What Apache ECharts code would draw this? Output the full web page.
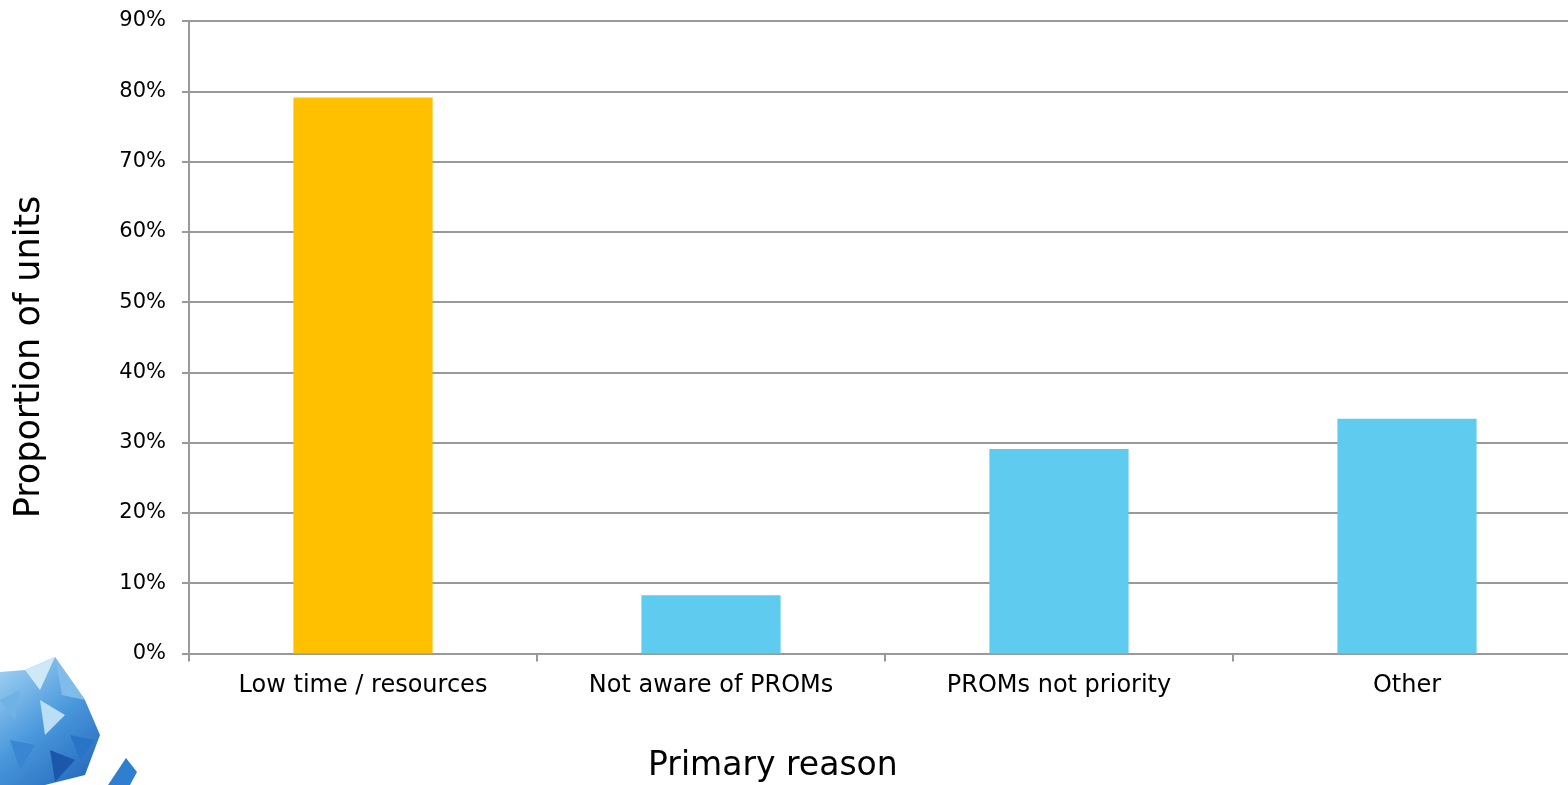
<!DOCTYPE html>
<html>
<head>
<meta charset="utf-8">
<script src="https://cdn.jsdelivr.net/npm/echarts@6/dist/echarts.min.js"></script>
<style>
html,body{margin:0;padding:0;background:#fff;overflow:hidden;width:1568px;height:785px;}
#c{width:1600px;height:785px;}
</style>
</head>
<body>
<div id="c"></div>
<script>
var categories = ['Low time / resources', 'Not aware of PROMs', 'PROMs not priority', 'Other'];
var values = [79.1, 8.3, 29.1, 33.4];
var barColors = ['#FFC000', '#5ECBEF', '#5ECBEF', '#5ECBEF'];
var yTicks = [0, 10, 20, 30, 40, 50, 60, 70, 80, 90];
var xTitle = 'Primary reason';
var yTitle = 'Proportion of units';

var chart = echarts.init(document.getElementById('c'), null, {renderer: 'canvas'});
var font = '"DejaVu Sans", Verdana, sans-serif';
var grey = '#999999';

var logoGrad = new echarts.graphic.LinearGradient(0, 0, 1, 1, [
  {offset: 0, color: '#a8d6f4'},
  {offset: 0.5, color: '#4a98dc'},
  {offset: 1, color: '#1f63b8'}
]);
var tri = function (pts, c) { return {type: 'polygon', shape: {points: pts}, style: {fill: c}}; };

chart.setOption({
  animation: false,
  grid: {left: 189, top: 21, width: 1392, height: 632.5, containLabel: false},
  xAxis: {
    type: 'category',
    data: categories,
    axisLine: {lineStyle: {color: grey, width: 2}},
    axisTick: {show: true, length: 8, lineStyle: {color: grey, width: 2}},
    axisLabel: {color: '#000', fontFamily: font, fontSize: 24, margin: 20}
  },
  yAxis: {
    type: 'value',
    min: yTicks[0], max: yTicks[yTicks.length - 1], interval: 10,
    axisLine: {show: true, lineStyle: {color: grey, width: 2}},
    axisTick: {show: true, length: 7, lineStyle: {color: grey, width: 2}},
    splitLine: {show: true, lineStyle: {color: grey, width: 2}},
    axisLabel: {color: '#000', fontFamily: font, fontSize: 21, margin: 23,
      formatter: function (v) { return v + '%'; }}
  },
  series: [{
    type: 'bar',
    barWidth: '40%',
    data: values.map(function (v, i) { return {value: v, itemStyle: {color: barColors[i]}}; })
  }],
  graphic: [
    {type: 'text', left: 648, top: 750, style: {text: xTitle, font: '33px ' + font, fill: '#000'}},
    {type: 'text', x: 12, y: 357, rotation: Math.PI / 2, style: {text: yTitle, font: '35px ' + font, fill: '#000', align: 'center', verticalAlign: 'top'}},
    {type: 'polygon', shape: {points: [[0, 672], [25, 670], [55, 657], [85, 700], [100, 735], [85, 775], [45, 785], [0, 785]]}, style: {fill: logoGrad}},
    tri([[25, 670], [55, 657], [40, 690]], '#cfe8f8'),
    tri([[55, 657], [85, 700], [62, 695]], '#7fbcea'),
    tri([[0, 700], [20, 690], [15, 720]], '#6fb2e6'),
    tri([[40, 700], [65, 715], [45, 735]], '#b9def6'),
    tri([[70, 735], [95, 740], [80, 760]], '#2a74c8'),
    tri([[10, 740], [35, 745], [20, 770]], '#3a86d2'),
    tri([[50, 750], [75, 760], [55, 782]], '#1b58ac'),
    {type: 'polygon', shape: {points: [[108, 785], [126, 758], [137, 772], [130, 785]]}, style: {fill: '#2f7fd0'}}
  ]
});
</script>
</body>
</html>
